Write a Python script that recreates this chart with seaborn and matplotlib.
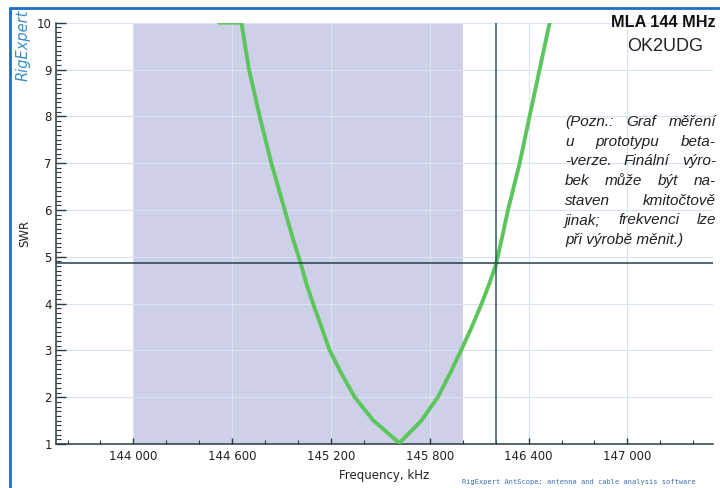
import matplotlib
matplotlib.use("Agg")
import matplotlib.pyplot as plt
import matplotlib.ticker as mticker
from matplotlib.lines import Line2D
import pandas as pd
import seaborn as sns

# SWR sweep of the MLA 144 MHz
freq_khz = [144520, 144656, 144702, 144767, 144838, 144919, 144965, 145016,
            145050, 145091, 145141, 145192, 145263, 145344, 145455, 145615,
            145749, 145849, 145922, 145990, 146055, 146115, 146162, 146204,
            146240, 146275, 146346, 146406, 146467, 146528]
swr = [10, 10, 9, 8, 7, 6, 5.43, 4.86,
       4.43, 4, 3.51, 3, 2.51, 2, 1.51, 1.02,
       1.5, 2, 2.5, 3, 3.5, 4, 4.43, 4.86,
       5.43, 6, 7, 8, 9, 10]

band_khz = [144000, 146000]
marker_khz = 146200
marker_swr = 4.86
xticks_khz = [144000, 144600, 145200, 145800, 146400, 147000]

note_lines = ["(Pozn.: Graf měření",
              "u prototypu beta-",
              "-verze. Finální výro-",
              "bek může být na-",
              "staven kmitočtově",
              "jinak; frekvenci lze",
              "při výrobě měnit.)"]

sns.set_theme(style="white")
plt.rcParams['font.family'] = ['DejaVu Sans']

fig = plt.figure(figsize=(7.2, 4.88), dpi=100)
ax = fig.add_axes([56 / 720, 1 - 444 / 488, (713 - 56) / 720, (444 - 22.7) / 488])
ax.set_facecolor("white")

df = pd.DataFrame({"freq": freq_khz, "swr": swr})

ax.axvspan(band_khz[0], band_khz[1], color="#cdd0e7", zorder=0, lw=0)
ax.grid(True, which="major", color="#d9e2f3", lw=0.8, zorder=1)
ax.set_axisbelow(True)

sns.lineplot(data=df, x="freq", y="swr", ax=ax, color="#5cc65c", lw=2.8,
             zorder=3)

ax.axhline(marker_swr, color="#233f4c", lw=1.1, zorder=4)
ax.axvline(marker_khz, color="#2a5a66", lw=1.1, zorder=4)

ax.set_xlim(143530, 147520)
ax.set_ylim(1, 10)
ax.set_xticks(xticks_khz)
ax.xaxis.set_minor_locator(mticker.MultipleLocator(200))
ax.yaxis.set_major_locator(mticker.MultipleLocator(1))
ax.yaxis.set_minor_locator(mticker.MultipleLocator(0.1))
ax.xaxis.set_major_formatter(
    mticker.FuncFormatter(lambda v, p: f"{int(v):,}".replace(",", " ")))

ax.tick_params(axis="both", which="both", direction="in", colors="#2b3a40",
               labelcolor="#222222", labelsize=8.5)
ax.tick_params(axis="y", which="major", length=7, width=1, pad=3, left=True)
ax.tick_params(axis="y", which="minor", length=3.5, width=0.8, left=True)
ax.tick_params(axis="x", which="major", length=4, width=1, pad=4, bottom=True)
ax.tick_params(axis="x", which="minor", length=3, width=0.8, bottom=True)

for s in ["top", "right"]:
    ax.spines[s].set_visible(False)
for s in ["left", "bottom"]:
    ax.spines[s].set_color("#2b3a40")
    ax.spines[s].set_linewidth(1.1)

ax.set_xlabel("Frequency, kHz", fontsize=8.5, color="#222222", labelpad=5)
ax.set_ylabel("")
fig.text(25 / 720, 1 - 233 / 488, "SWR", rotation=90, fontsize=8.5,
         color="#222222", ha="center", va="center")
fig.text(23 / 720, 1 - 45 / 488, "RigExpert", rotation=90, fontsize=10.5,
         style="italic", color="#3b8dc4", ha="center", va="center")

fig.text(716 / 720, 1 - 22.3 / 488, "MLA 144 MHz", fontsize=11.7,
         fontweight="bold", family="Liberation Sans", color="#111111",
         ha="right", va="center")
fig.text(665 / 720, 1 - 46.7 / 488, "OK2UDG", fontsize=13,
         family="Liberation Sans", color="#222222", ha="center", va="center")

# justified note block
renderer = fig.canvas.get_renderer()
left_px, right_px = 565, 716
for i, line in enumerate(note_lines):
    y = 1 - (122 + i * 19.7) / 488
    words = line.split()
    kw = dict(fontsize=11, style="italic", family="Liberation Sans",
              color="#222222", va="center", ha="left")
    if i == len(note_lines) - 1 or len(words) == 1:
        fig.text(left_px / 720, y, line, **kw)
        continue
    texts = [fig.text(0, y, w, **kw) for w in words]
    widths = [t.get_window_extent(renderer).width for t in texts]
    gap = (right_px - left_px - sum(widths)) / (len(words) - 1)
    x = left_px
    for t, w in zip(texts, widths):
        t.set_x(x / 720)
        x += w + gap

fig.text(462 / 720, 1 - 482 / 488,
         "RigExpert AntScope: antenna and cable analysis software",
         fontsize=5, family="DejaVu Sans Mono", color="#3d6fb3",
         ha="left", va="center")

# blue frame of the original screenshot
fig.add_artist(Line2D([9.5 / 720, 1], [1 - 7.5 / 488] * 2, color="#1d6fc2",
                      lw=2, transform=fig.transFigure))
fig.add_artist(Line2D([9.5 / 720] * 2, [0, 1 - 7.5 / 488], color="#1d6fc2",
                      lw=2, transform=fig.transFigure))

fig.savefig("out.png", dpi=100)
